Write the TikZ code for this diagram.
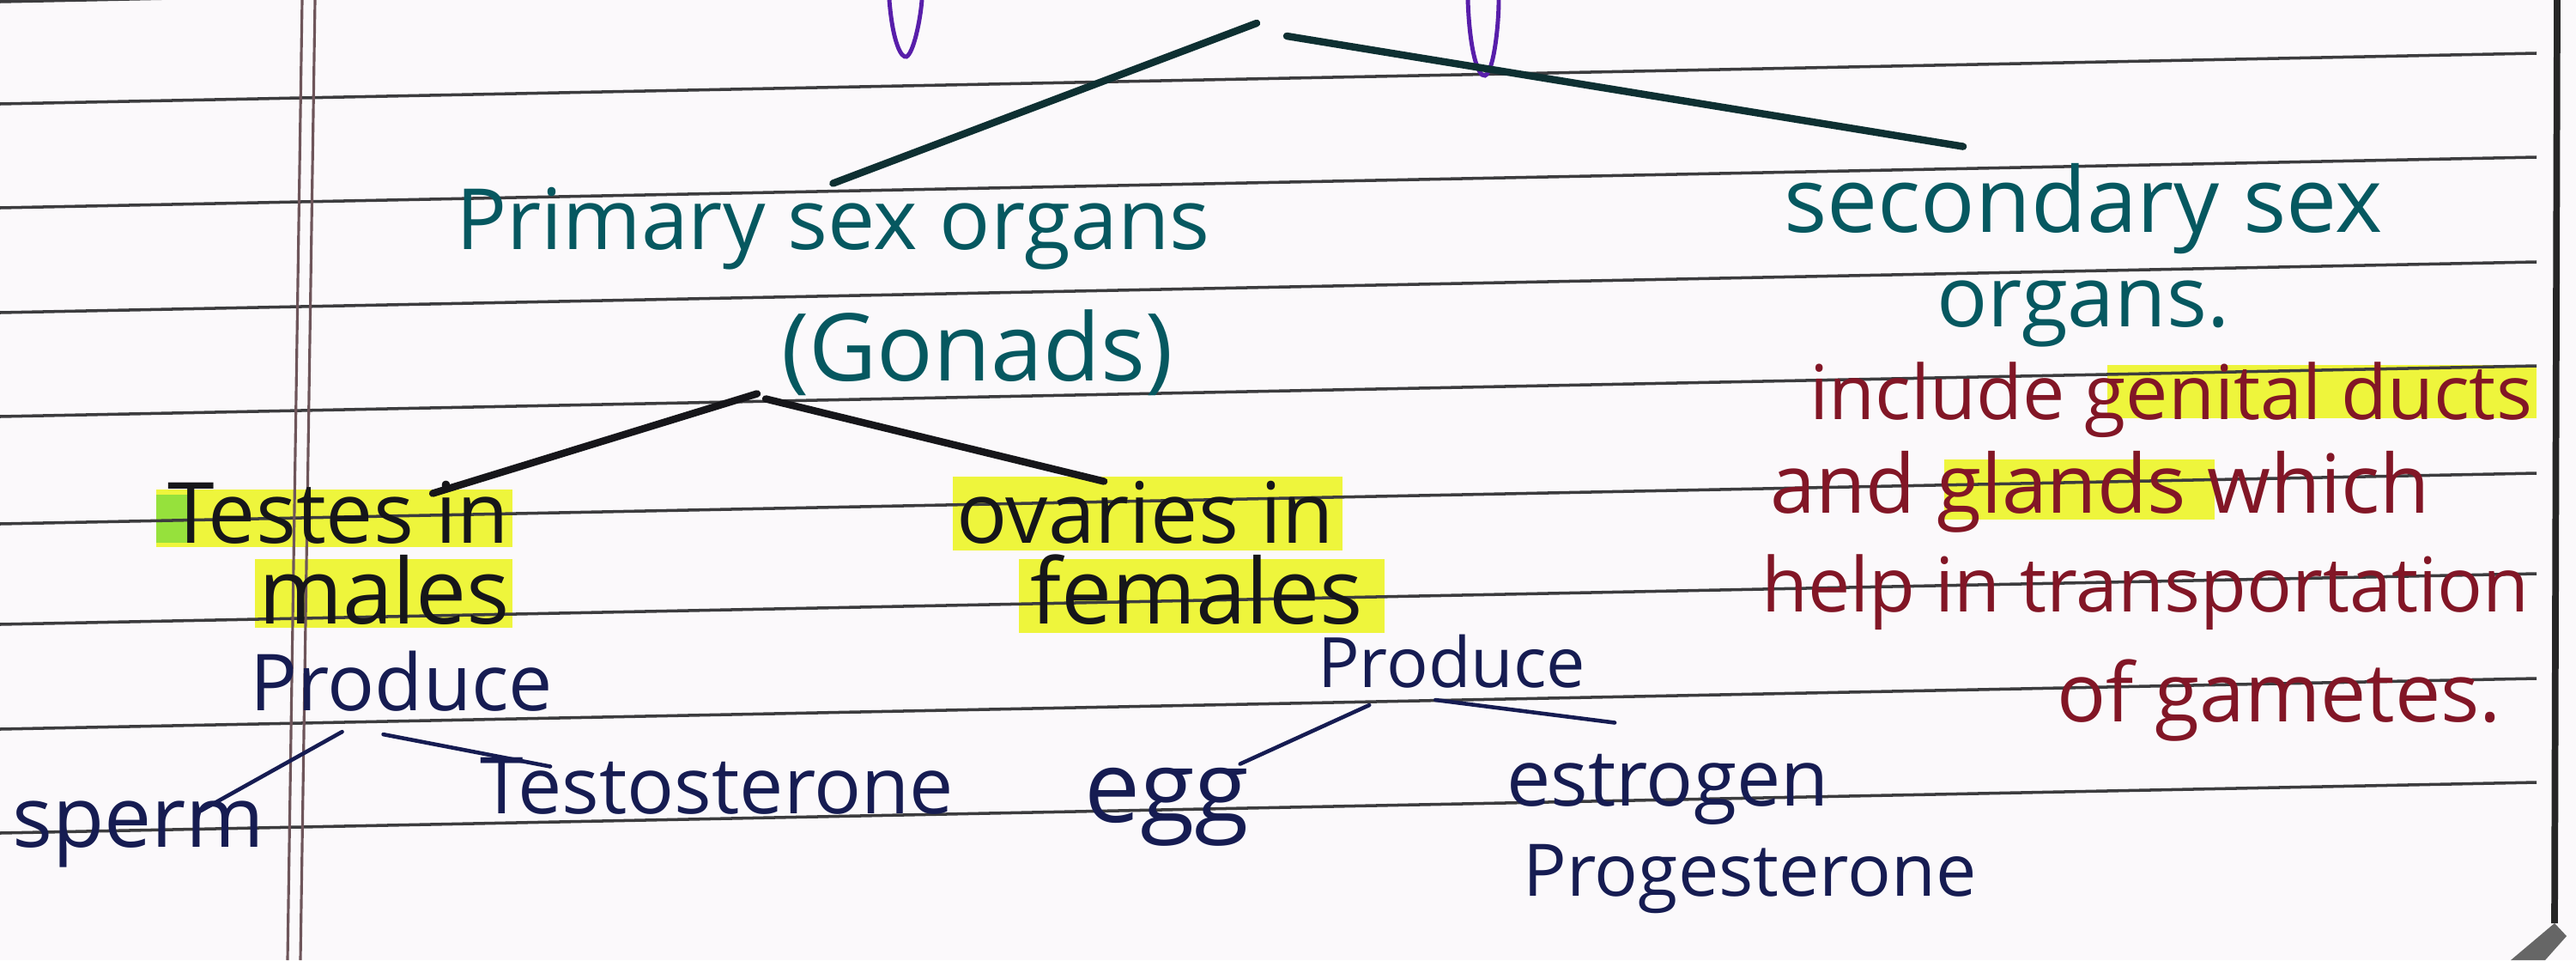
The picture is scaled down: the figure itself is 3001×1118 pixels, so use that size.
\documentclass[tikz,border=0pt]{standalone}
\usepackage{fontspec}
\setmainfont{Open Sans}
\usepackage{xcolor}
\usetikzlibrary{positioning, calc}

\definecolor{inkteal}{RGB}{6,88,96}
\definecolor{inkdark}{RGB}{14,48,50}
\definecolor{inkblack}{RGB}{22,22,26}
\definecolor{inknavy}{RGB}{22,28,82}
\definecolor{inkred}{RGB}{130,22,38}
\definecolor{inkpurple}{RGB}{88,30,170}
\definecolor{hlyellow}{RGB}{238,245,60}
\definecolor{hlgreen}{RGB}{150,225,60}
\definecolor{paper}{RGB}{251,249,251}
\definecolor{ruling}{RGB}{60,60,62}
\definecolor{marginred}{RGB}{110,85,90}

\newcommand{\hwsize}[1]{\fontsize{#1}{#1}\selectfont}

\begin{document}
\begin{tikzpicture}[
  x=0.01cm, y=-0.01cm,
  txt/.style={anchor=base west, inner sep=1pt},
  headtxt/.style={txt, text=inkteal},
  gonadtxt/.style={txt, text=inkblack},
  prodtxt/.style={txt, text=inknavy},
  notetxt/.style={txt, text=inkred},
  branch/.style={draw=#1, line width=2.4pt, line cap=round},
  branch/.default=inkblack,
  twig/.style={draw=inknavy, line width=1.3pt, line cap=round},
  ruleline/.style={draw=ruling, line width=1pt},
  hlbox/.style={fill=hlyellow}
]
\useasboundingbox (0,0) rectangle (3001,1118);
\begin{scope}
\clip (0,0) rectangle (3001,1118);
\fill[paper] (0,0) rectangle (3001,1118);

% highlighter
\fill[hlbox] (182,570) rectangle (597,637);
\fill[hlgreen] (182,576) rectangle (222,632);
\fill[hlbox] (297,651) rectangle (597,731);
\fill[hlbox] (1110,555) rectangle (1564,641);
\fill[hlbox] (1187,651) rectangle (1613,737);
\fill[hlbox] (2455,425) rectangle (2955,487);
\fill[hlbox] (2265,535) rectangle (2580,605);

% ruled lines of the page
\foreach \y in {2,121,242,364,485,610,727,849,970}
  \draw[ruleline] (0,\y) -- (2955,\y-59);

% margin and page edge
\draw[marginred, line width=0.9pt] (352,0) -- (335,1118);
\draw[marginred, line width=0.9pt] (367,0) -- (350,1118);
\draw[black!85, line width=2.2pt] (2979,0) -- (2976,1075);
\fill[black!60] (2925,1118) -- (2976,1075) -- (2990,1090) -- (2965,1118) -- cycle;

% cut-off strokes of the title above
\draw[inkpurple, line width=1.4pt] (1036,0) .. controls (1040,50) and (1050,68) .. (1056,66) .. controls (1064,62) and (1072,25) .. (1074,0);
\draw[inkpurple, line width=1.4pt] (1710,0) .. controls (1712,60) and (1722,90) .. (1730,88) .. controls (1740,84) and (1746,30) .. (1746,0);

% main heads
\node[headtxt, font=\hwsize{28pt}] (primary) at (527,290) {Primary sex organs};
\node[headtxt, font=\hwsize{31pt}] (gonads) at (906,443) {(Gonads)};
\node[headtxt, font=\hwsize{30pt}] (secondary) at (2074,270) {secondary sex};
\node[headtxt, font=\hwsize{28pt}] (organs) at (2252,380) {organs.};

% notes on secondary organs
\node[notetxt, font=\hwsize{25pt}] (include) at (2104,488) {include genital ducts};
\node[notetxt, font=\hwsize{27pt}] (glands) at (2058,597) {and glands which};
\node[notetxt, font=\hwsize{25pt}] (help) at (2048,712) {help in transportation};
\node[notetxt, font=\hwsize{27pt}] (gametes) at (2392,840) {of gametes.};

% gonads
\node[gonadtxt, font=\hwsize{28pt}] (testes) at (191,632) {Testes in};
\node[gonadtxt, font=\hwsize{30pt}] (males) at (297,726) {males};
\node[gonadtxt, font=\hwsize{28pt}] (ovaries) at (1110,632) {ovaries in};
\node[gonadtxt, font=\hwsize{30pt}] (females) at (1196,726) {females};

% products
\node[prodtxt, font=\hwsize{26pt}] (produceM) at (287,827) {Produce};
\node[prodtxt, font=\hwsize{23pt}] (produceF) at (1531,800) {Produce};
\node[prodtxt, font=\hwsize{28pt}] (sperm) at (10,986) {sperm};
\node[prodtxt, font=\hwsize{26pt}] (testosterone) at (555,947) {Testosterone};
\node[prodtxt, font=\hwsize{33pt}] (egg) at (1259,957) {egg};
\node[prodtxt, font=\hwsize{26pt}] (estrogen) at (1751,938) {estrogen};
\node[prodtxt, font=\hwsize{24pt}] (progesterone) at (1770,1043) {Progesterone};

% branches
\coordinate (apexL) at (1464,27);
\coordinate (apexR) at (1499,42);
\draw[branch=inkdark] (apexL) -- (primary.north);
\draw[branch=inkdark] (apexR) -- ([xshift=-1.4cm, yshift=0.15cm]secondary.north);
\draw[branch] ([xshift=-0.24cm, yshift=0.06cm]gonads.south west) -- ([xshift=-0.93cm, yshift=-0.19cm]testes.north east);
\draw[branch] ([xshift=-0.14cm]gonads.south west) -- ([xshift=1.76cm, yshift=-0.05cm]ovaries.north west);
\draw[twig] ([xshift=-0.69cm, yshift=-0.2cm]produceM.south) -- ([xshift=-0.79cm, yshift=-0.16cm]sperm.north east);
\draw[twig] ([xshift=-0.21cm, yshift=-0.23cm]produceM.south) -- ([xshift=0.86cm, yshift=-0.15cm]testosterone.north west);
\draw[twig] ([xshift=-0.96cm, yshift=-0.16cm]produceF.south) -- ([xshift=-0.15cm]egg.north east);
\draw[twig] ([xshift=-0.19cm, yshift=-0.1cm]produceF.south) -- ([xshift=1.3cm, yshift=0.32cm]estrogen.north west);
\end{scope}
\end{tikzpicture}
\end{document}
